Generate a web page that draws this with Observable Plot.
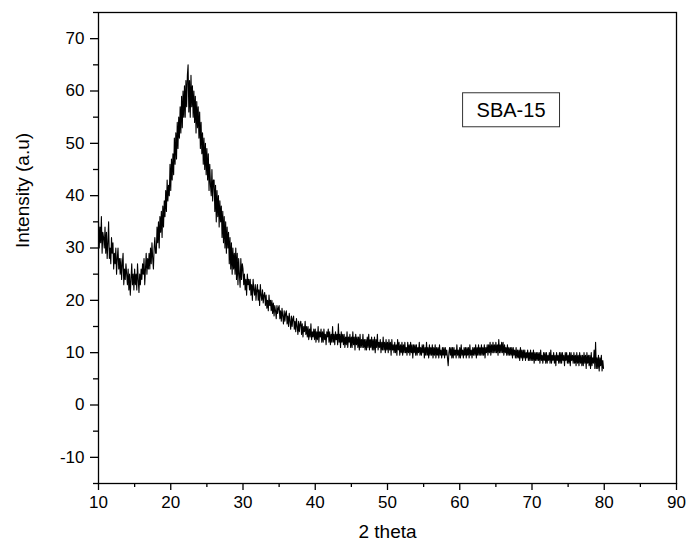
<!DOCTYPE html>
<html>
<head>
<meta charset="utf-8">
<script src="https://cdn.jsdelivr.net/npm/d3@7"></script>
<script src="https://cdn.jsdelivr.net/npm/@observablehq/plot@0.6"></script>
<style>
  html, body { margin: 0; padding: 0; background: #fff; }
  #chart { width: 691px; height: 550px; }
</style>
</head>
<body>
<div id="chart"></div>
<script>
// 2θ sampling of the pattern (degrees)
const twoThetaStart = 10.0;
const twoThetaStep = 0.1;

// Intensity (a.u.), one row = 1 degree (10.0 ... 79.9)
const intensity = [
  35, 30, 34, 31, 36, 29, 33, 32, 30, 34,
  29, 33, 28, 31, 35, 28, 30, 27, 32, 29,
  31, 26, 29, 27, 30, 25, 28, 30, 26, 28,
  25, 28, 24, 27, 29, 23, 26, 24, 27, 25,
  23, 26, 22, 25, 21, 24, 27, 23, 25, 22,
  26, 23, 25, 22, 27, 24, 21.5, 25, 23, 26,
  24, 27, 25, 28, 23, 26, 29, 25, 28, 26,
  29, 26, 30, 27, 31, 28, 26, 30, 32, 29,
  29, 34, 31, 35, 30, 36, 33, 37, 32, 38,
  34, 39, 36, 41, 37, 43, 39, 42, 40, 46,
  41, 47, 43, 48, 44, 51, 46, 52, 47, 54,
  49, 55, 51, 57, 52, 59, 53, 60, 55, 61,
  55, 62, 57, 63, 65, 56, 62, 55, 63, 57,
  61, 55, 60, 54, 59, 52, 58, 53, 57, 51,
  56, 49, 54, 48, 52, 46, 51, 45, 50, 44,
  49, 43, 48, 41, 46, 42, 40, 45, 39, 43,
  43, 37, 42, 35, 41, 36, 40, 34, 39, 35,
  38, 32, 37, 31, 36, 30, 35, 29, 34, 30,
  33, 27, 32, 26, 31, 25, 30, 26, 29, 25,
  30, 24, 29, 23, 28, 25, 22.5, 28, 24, 27,
  26, 23, 25, 22, 24, 21, 25, 23, 24, 22,
  24, 21, 23, 20, 24, 22, 21, 23, 20, 22,
  23, 20, 22, 19, 23, 21, 20, 22, 19.5, 21,
  21.5, 19, 21, 18.5, 20, 18, 21, 19, 20, 18,
  20, 17.5, 19.5, 17, 19, 18, 16.5, 19, 17.5, 18.5,
  19, 16.5, 18, 16, 18.5, 17, 15.5, 18, 16, 17.5,
  18, 15.5, 17, 15, 17.5, 16, 14.5, 17, 15, 16.5,
  17, 14.5, 16, 14, 16.5, 15, 13.5, 16, 14, 15.5,
  16, 13.5, 15.5, 13, 15, 14, 16, 13.5, 15, 13,
  15, 12.5, 14.5, 13, 15.5, 12.5, 14, 13, 14.5, 12.5,
  14.5, 12, 14, 12.5, 15, 12, 14, 13, 14.5, 12,
  14, 12, 14.5, 12.5, 13.5, 11.5, 14, 13, 14.5, 12,
  14, 11.5, 13.5, 12, 15, 12, 13.5, 11.5, 14, 12.5,
  13.5, 11.5, 15.5, 12, 13.5, 11, 14, 12, 13.5, 11.5,
  13.5, 11, 13, 11.5, 14, 11, 13, 12, 13.5, 11,
  13, 11, 14, 11.5, 13, 10.5, 13.5, 11.5, 13, 11,
  13, 10.5, 13.5, 11, 12.5, 11, 13.5, 11, 12.5, 10.5,
  12.5, 10.5, 13, 11, 13.5, 10.5, 12.5, 11, 13, 10.5,
  12.5, 10.5, 13, 10, 12.5, 11, 13.5, 10.5, 12, 11,
  12.5, 10, 12, 10.5, 13, 10.5, 12, 10, 12.5, 10.5,
  12, 10, 12.5, 10.5, 12, 9.5, 12.5, 10.5, 11.5, 10,
  12, 10, 11.5, 9.5, 12.5, 10.5, 12, 9.5, 11.5, 10,
  12, 9.5, 11.5, 10, 12, 10, 11, 9.5, 12, 10,
  11.5, 9.5, 12, 10, 11.5, 9, 11.5, 10, 11.5, 9.5,
  11.5, 9.5, 11, 10, 12, 9.5, 11, 9.5, 11.5, 10,
  11.5, 9, 11, 9.5, 12, 9.5, 11, 9, 11.5, 9.5,
  11, 9.5, 11.5, 9, 11, 9.5, 11.5, 9, 11, 9.5,
  11, 9, 11.5, 9.5, 10.5, 9, 11, 9.5, 11, 9,
  11, 9.5, 10.5, 9, 7.5, 10, 11, 9.5, 11, 9,
  11, 9, 11, 9.5, 10.5, 9, 11.5, 9.5, 10.5, 9,
  11, 9, 11.5, 9.5, 10.5, 9, 11, 9.5, 11, 9,
  11, 9.5, 11, 9, 11.5, 9.5, 10.5, 9, 11, 9.5,
  11, 9.5, 11.5, 9, 11, 9.5, 11.5, 9.5, 11, 9.5,
  11.5, 9.5, 11, 9.5, 11.5, 9, 11, 10, 11.5, 9.5,
  11.5, 10, 12, 9.5, 11.5, 10, 12, 10, 11.5, 10,
  12, 10, 11.5, 9.5, 12.5, 10, 11.5, 10, 12, 10,
  12, 9.5, 11.5, 10, 11, 9.5, 11.5, 9.5, 11, 9.5,
  11, 9.5, 11, 9, 11, 9.5, 10.5, 9, 11, 9,
  10.5, 9, 10.5, 8.5, 11, 9, 10.5, 8.5, 10.5, 9,
  10.5, 8.5, 10, 9, 10.5, 8.5, 10, 8.5, 10.5, 8.5,
  10, 8.5, 10.5, 8, 10, 8.5, 10, 8.5, 10, 8.5,
  10, 8, 10.5, 8.5, 9.5, 8, 10, 8.5, 10, 8,
  10, 8, 9.5, 8.5, 10, 8, 10.5, 8, 9.5, 8.5,
  10, 8, 9.5, 7.5, 10, 8.5, 9.5, 8, 10, 8,
  10, 8, 10, 8.5, 9.5, 7.5, 10, 8.5, 10, 8,
  9.5, 8, 10, 7.5, 10, 8.5, 9.5, 8, 10, 8,
  9.5, 7.5, 10, 8, 9.5, 7.5, 10, 8, 9.5, 7.5,
  9.5, 7.5, 10, 8, 9.5, 7, 10, 8, 9.5, 7.5,
  9.5, 7, 10, 7.5, 9, 8, 10.5, 7, 12, 7,
  9, 7, 9.5, 6.5, 9, 7.5, 9.5, 6.5, 8.5, 7
];

const xMajorTicks = [10, 20, 30, 40, 50, 60, 70, 80, 90];
const xMinorTicks = [15, 25, 35, 45, 55, 65, 75, 85];
const yMajorTicks = [-10, 0, 10, 20, 30, 40, 50, 60, 70];
const yMinorTicks = [-15, -5, 5, 15, 25, 35, 45, 55, 65, 75];

const legendLabels = [{text: "SBA-15", x: 67.1, y: 56.3}];

const pattern = intensity.map((v, i) => ({
  theta: +(twoThetaStart + i * twoThetaStep).toFixed(2),
  value: v
}));

const font = "Arial, 'Liberation Sans', sans-serif";
const plain = d => String(d);

const chart = Plot.plot({
  width: 691,
  height: 550,
  marginLeft: 98,
  marginRight: 15,
  marginTop: 12,
  marginBottom: 67,
  style: {fontFamily: font, fontSize: "17px", color: "#000", background: "#fff"},
  x: {domain: [10, 90]},
  y: {domain: [-15, 75]},
  marks: [
    Plot.axisX({ticks: xMinorTicks, tickSize: 4, tickFormat: () => "", label: null, strokeWidth: 1.3}),
    Plot.axisX({ticks: xMajorTicks, tickSize: 7, tickPadding: 5, tickFormat: plain, label: null, strokeWidth: 1.3, fontSize: 17}),
    Plot.axisY({ticks: yMinorTicks, tickSize: 5, tickFormat: () => "", label: null, strokeWidth: 1.3}),
    Plot.axisY({ticks: yMajorTicks, tickSize: 8, tickPadding: 6, tickFormat: plain, label: null, strokeWidth: 1.3, fontSize: 17}),
    Plot.frame({stroke: "#000", strokeWidth: 1.3}),
    Plot.line(pattern, {x: "theta", y: "value", stroke: "#000", strokeWidth: 1.1}),
    Plot.text(legendLabels, {x: "x", y: "y", text: "text", fontSize: 20, fill: "#000", className: "legend-label"}),
    Plot.text(["2 theta"], {frameAnchor: "bottom", dy: 54, fontSize: 19, fill: "#000"}),
    Plot.text(["Intensity (a.u)"], {frameAnchor: "left", dx: -76, rotate: -90, fontSize: 19, fill: "#000"})
  ]
});

document.getElementById("chart").appendChild(chart);

// draw the box around the legend label
const lbl = chart.querySelector(".legend-label text");
if (lbl) {
  const bb = lbl.getBBox();
  const g = lbl.parentNode;
  const padX = 14, padY = 6;
  const rect = document.createElementNS("http://www.w3.org/2000/svg", "rect");
  rect.setAttribute("x", bb.x - padX);
  rect.setAttribute("y", bb.y - padY);
  rect.setAttribute("width", bb.width + 2 * padX);
  rect.setAttribute("height", bb.height + 2 * padY);
  rect.setAttribute("fill", "#fff");
  rect.setAttribute("stroke", "#333");
  rect.setAttribute("stroke-width", "1");
  if (lbl.getAttribute("transform")) rect.setAttribute("transform", lbl.getAttribute("transform"));
  g.insertBefore(rect, lbl);
}
</script>
</body>
</html>
